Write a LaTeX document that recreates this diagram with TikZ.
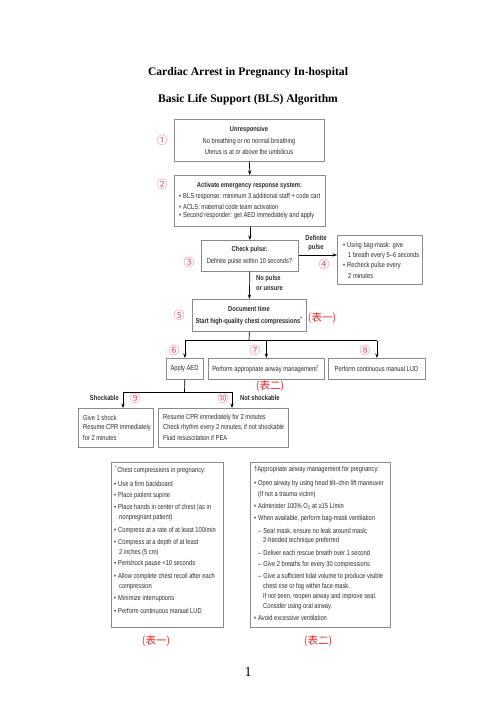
\documentclass[tikz,border=0pt]{standalone}
\usepackage{fontspec}
\setmainfont{Liberation Sans}
\newfontfamily\cond[FakeStretch=0.8]{Liberation Sans}
\newfontfamily\titlefont{Liberation Serif}
\newfontfamily\cjk{Noto Sans CJK SC}
\usetikzlibrary{arrows.meta}
\definecolor{boxgray}{HTML}{8A8A8A}
\definecolor{txtgray}{HTML}{2A2A2A}
\definecolor{numred}{HTML}{E8506A}
\definecolor{tabred}{HTML}{E02828}
\tikzset{
  box/.style={draw=boxgray, line width=0.7pt, fill=white, inner sep=0pt, anchor=north west},
  t/.style={font=\cond\fontsize{7.2}{8}\selectfont, text=txtgray, inner sep=0pt},
  tb/.style={font=\cond\bfseries\fontsize{7.2}{8}\selectfont, text=txtgray, inner sep=0pt},
  tl/.style={t, anchor=west},
  num/.style={font=\cjk\fontsize{11}{11}\selectfont, text=numred, inner sep=0pt},
  tab/.style={font=\cjk\fontsize{10.5}{10}\selectfont, text=tabred, inner sep=0pt},
  ttl/.style={font=\titlefont\bfseries\fontsize{11.6}{12}\selectfont, text=black, inner sep=0pt},
  con/.style={draw=black, line width=0.7pt},
  arr/.style={con, -{Stealth[length=4.5pt,width=3.2pt]}},
}
\begin{document}
\begin{tikzpicture}[x=1pt,y=-1pt]
\useasboundingbox (0,0) rectangle (496,702);
% titles
\node[ttl] (title1) at (248,73) {Cardiac Arrest in Pregnancy In-hospital};
\node[ttl] (title2) at (248,100) {Basic Life Support (BLS) Algorithm};
% box 1
\node[box, minimum width=150pt, minimum height=42pt] (b1) at (174,119) {};
\node[tb] (b1a) at (249,130) {Unresponsive};
\node[t] (b1b) at (249,141.5) {No breathing or no normal breathing};
\node[t] (b1c) at (249,151.5) {Uterus is at or above the umbilicus};
\node[num] (n1) at (162,140) {①};
% box 2
\node[box, minimum width=151pt, minimum height=51pt] (b2) at (174,175) {};
\node[tb] (b2a) at (249.5,186) {Activate emergency response system:};
\node[tl] (b2b) at (179,197) {•\hspace{2pt}BLS response: minimum 3 additional staff + code cart};
\node[tl] (b2c) at (179,206.5) {•\hspace{2pt}ACLS: maternal code team activation};
\node[tl] (b2d) at (179,216) {•\hspace{2pt}Second responder: get AED immediately and apply};
\node[num] (n2) at (162,184) {②};
% box 3
\node[box, minimum width=97pt, minimum height=31pt] (b3) at (201,240) {};
\node[tb] (b3a) at (249.5,250) {Check pulse:};
\node[t] (b3b) at (249.5,262) {Definite pulse within 10 seconds?};
\node[num] (n3) at (189,262) {③};
% box 4
\node[box, minimum width=85pt, minimum height=49pt] (b4) at (337,235) {};
\node[tl] (b4a) at (343,246) {•\hspace{2pt}Using bag-mask: give};
\node[tl] (b4b) at (348,256) {1 breath every 5–6 seconds};
\node[tl] (b4c) at (343,266) {•\hspace{2pt}Recheck pulse every};
\node[tl] (b4d) at (348,275.5) {2 minutes};
\node[num] (n4) at (324,264) {④};
\node[tb] (l1a) at (316,238) {Definite};
\node[tb] (l1b) at (316,248) {pulse};
% box 5
\node[box, minimum width=114pt, minimum height=32pt] (b5) at (192,299) {};
\node[tb] (b5a) at (249,309) {Document time};
\node[tb] (b5b) at (249,321) {Start high-quality chest compressions\textsuperscript{*}};
\node[num] (n5) at (179,315) {⑤};
\node[tab] (tab1) at (322,318) {(表一)};
\node[tb, anchor=west] (l2a) at (256,279) {No pulse};
\node[tb, anchor=west] (l2b) at (256,289) {or unsure};
% row boxes
\node[box, minimum width=37pt, minimum height=21pt] (b6) at (166,358) {};
\node[t] (b6a) at (184.5,369) {Apply AED};
\node[box, minimum width=116pt, minimum height=21pt] (b7) at (208,358) {};
\node[t] (b7a) at (266,369) {Perform appropriate airway management\textsuperscript{†}};
\node[box, minimum width=97pt, minimum height=21pt] (b8) at (328,358) {};
\node[t] (b8a) at (376.5,369) {Perform continuous manual LUD};
\node[num] (n6) at (174,350) {⑥};
\node[num] (n7) at (255,350) {⑦};
\node[num] (n8) at (365,350) {⑧};
\node[tab] (tab2) at (270,386) {(表二)};
% shock boxes
\node[box, minimum width=75pt, minimum height=39pt] (b9) at (78,408) {};
\node[tl] (b9a) at (83,418) {Give 1 shock};
\node[tl] (b9b) at (83,428) {Resume CPR immediately};
\node[tl] (b9c) at (83,438) {for 2 minutes};
\node[box, minimum width=130pt, minimum height=39pt] (b10) at (158,408) {};
\node[tl] (b10a) at (163,418) {Resume CPR immediately for 2 minutes};
\node[tl] (b10b) at (163,428) {Check rhythm every 2 minutes; if not shockable};
\node[tl] (b10c) at (163,438) {Fluid resuscitation if PEA};
\node[tb, anchor=east] (l3) at (119,398) {Shockable};
\node[tb, anchor=west] (l4) at (240,398) {Not shockable};
\node[num] (n9) at (135,398) {⑨};
\node[num] (n10) at (223,398) {⑩};
% connectors
\coordinate (j1) at (249,340.5);
\coordinate (j2) at (184.5,392);
\coordinate (s1) at (123,392);
\coordinate (s2) at (232,392);
\draw[arr] (b1.south) -- (b2.north);
\draw[arr] (b2.south) -- (b3.north);
\draw[arr] (b3.east |- 0,255) -- (b4.west |- 0,255);
\draw[arr] (b3.south) -- (b5.north);
\draw[con] (b5.south) -- (j1);
\draw[con] (b6.north |- j1) -- (b8.north |- j1);
\draw[arr] (b6.north |- j1) -- (b6.north);
\draw[arr] (b7.north |- j1) -- (b7.north);
\draw[arr] (b8.north |- j1) -- (b8.north);
\draw[con] (b6.south) -- (j2);
\draw[con] (s1) -- (s2);
\draw[arr] (s1) -- (s1 |- b9.north);
\draw[arr] (s2) -- (s2 |- b10.north);
% notes box 1
\node[box, minimum width=112pt, minimum height=165pt] (b11) at (111,462) {};
\node[tl] (c0) at (115,470) {\textsuperscript{*}Chest compressions in pregnancy:};
\node[tl] (c1) at (114,484) {•\hspace{2pt}Use a firm backboard};
\node[tl] (c2) at (114,496) {•\hspace{2pt}Place patient supine};
\node[tl] (c3) at (114,508) {•\hspace{2pt}Place hands in center of chest (as in};
\node[tl] (c3b) at (119,518) {nonpregnant patient)};
\node[tl] (c4) at (114,531) {•\hspace{2pt}Compress at a rate of at least 100/min};
\node[tl] (c5) at (114,543) {•\hspace{2pt}Compress at a depth of at least};
\node[tl] (c5b) at (119,552.5) {2 inches (5 cm)};
\node[tl] (c6) at (114,564) {•\hspace{2pt}Perishock pause <10 seconds};
\node[tl] (c7) at (114,577) {•\hspace{2pt}Allow complete chest recoil after each};
\node[tl] (c7b) at (119,586.5) {compression};
\node[tl] (c8) at (114,598.5) {•\hspace{2pt}Minimize interruptions};
\node[tl] (c9) at (114,610.5) {•\hspace{2pt}Perform continuous manual LUD};
% notes box 2
\node[box, minimum width=140pt, minimum height=165pt] (b12) at (249.5,462) {};
\node[tl] (d0) at (254,470) {†Appropriate airway management for pregnancy:};
\node[tl] (d1) at (254,484) {•\hspace{2pt}Open airway by using head tilt–chin lift maneuver};
\node[tl] (d1b) at (258,494.5) {(If not a trauma victim)};
\node[tl] (d2) at (254,506.5) {•\hspace{2pt}Administer 100\% O\textsubscript{2} at ≥15 L/min};
\node[tl] (d3) at (254,518.5) {•\hspace{2pt}When available, perform bag-mask ventilation};
\node[tl] (d4) at (258,531) {–\hspace{2pt}Seal mask, ensure no leak around mask;};
\node[tl] (d4b) at (263,541) {2-handed technique preferred};
\node[tl] (d5) at (258,552.5) {–\hspace{2pt}Deliver each rescue breath over 1 second};
\node[tl] (d6) at (258,564.5) {–\hspace{2pt}Give 2 breaths for every 30 compressions};
\node[tl] (d7) at (258,576.5) {–\hspace{2pt}Give a sufficient tidal volume to produce visible};
\node[tl] (d7b) at (263,586.5) {chest rise or fog within face mask.};
\node[tl] (d7c) at (263,596.5) {If not seen, reopen airway and improve seal.};
\node[tl] (d7d) at (263,606.5) {Consider using oral airway.};
\node[tl] (d8) at (254,617.5) {•\hspace{2pt}Avoid excessive ventilation};
\node[tab] (tab3) at (156,641) {(表一)};
\node[tab] (tab4) at (318,641) {(表二)};
\node[font=\titlefont\fontsize{14}{14}\selectfont, inner sep=0pt] (page) at (248,672) {1};
\end{tikzpicture}
\end{document}
